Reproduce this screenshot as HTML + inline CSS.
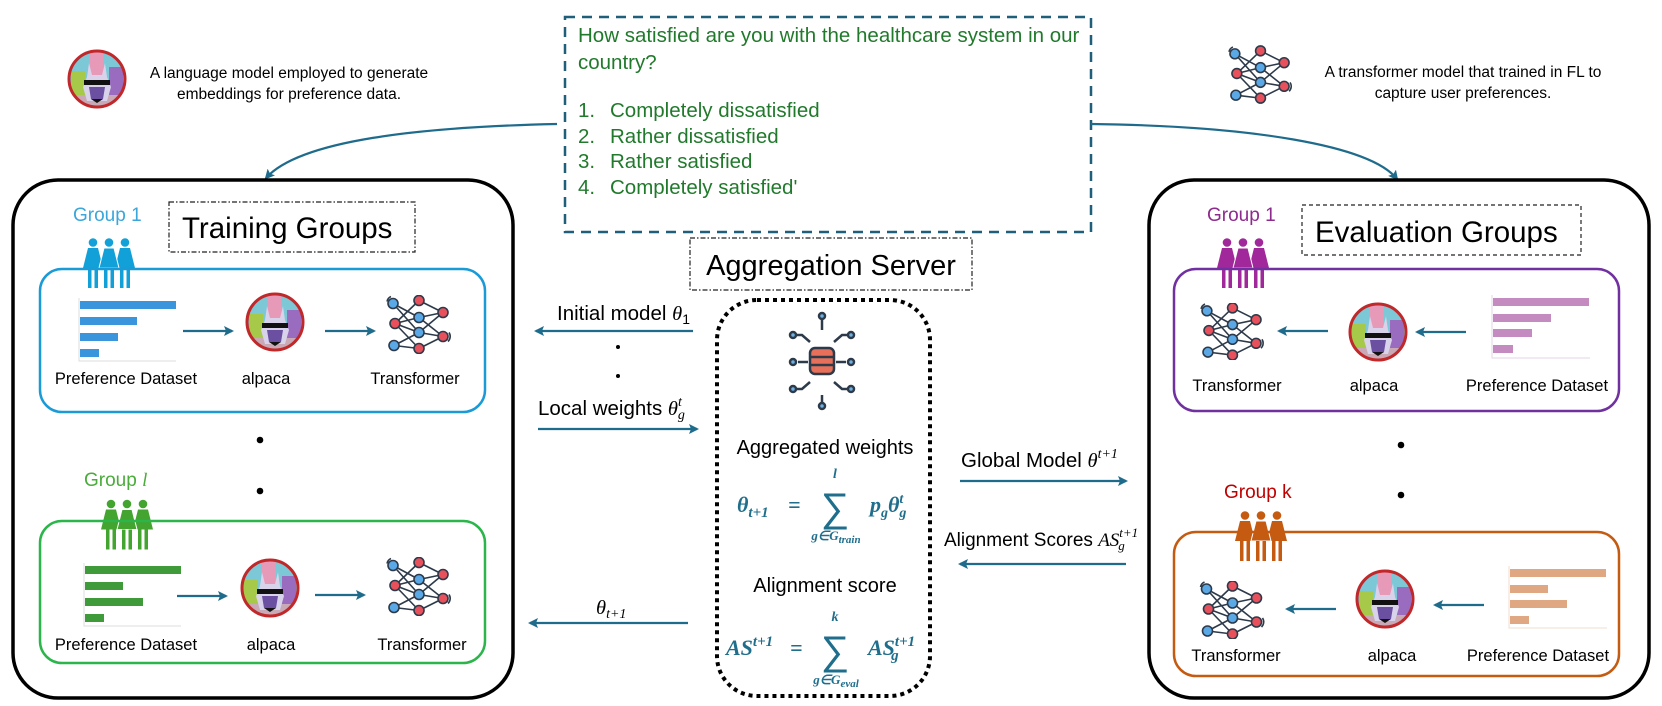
<!DOCTYPE html>
<html><head><meta charset="utf-8"><style>
html,body{margin:0;padding:0;background:#fff;}
svg{display:block;}
text{font-family:"Liberation Sans",sans-serif;}
.f{font-family:"Liberation Serif",serif;font-weight:bold;font-style:italic;fill:#1f6e8c;}
.it{font-family:"Liberation Serif",serif;font-style:italic;}
</style></head><body>
<svg width="1662" height="706" viewBox="0 0 1662 706" xmlns="http://www.w3.org/2000/svg">
<defs>
<marker id="ah" markerWidth="10" markerHeight="10" refX="8" refY="5" orient="auto" markerUnits="userSpaceOnUse">
<path d="M0,0 L10,5 L0,10 L2,5 Z" fill="#1f6b8c"/></marker>
<symbol id="tr" viewBox="0 0 68 58">
<g stroke="#2d3a4a" stroke-width="1.6" fill="none">
<path d="M8,8 L34,22 M8,8 L34,37 M10,28 L34,5 M10,28 L34,22 M10,28 L34,37 M10,28 L34,53 M9,50 L34,37 M9,50 L34,53 M34,5 L58,17 M34,22 L58,41 M34,37 L58,17 M34,53 L58,41 M34,22 L58,17 M34,37 L58,41"/>
<path d="M2,6 A7,7 0 0 1 6,1 M64,37 A7,7 0 0 1 63,46"/>
</g>
<g stroke="#2d3a4a" stroke-width="1.6">
<circle cx="8" cy="8" r="5" fill="#5aa9e6"/><circle cx="10" cy="28" r="5" fill="#e8505b"/><circle cx="9" cy="50" r="5" fill="#5aa9e6"/>
<circle cx="34" cy="5" r="5" fill="#e8505b"/><circle cx="34" cy="22" r="5" fill="#5aa9e6"/><circle cx="34" cy="37" r="5" fill="#5aa9e6"/><circle cx="34" cy="53" r="5" fill="#e8505b"/>
<circle cx="58" cy="17" r="5" fill="#e8505b"/><circle cx="58" cy="41" r="5" fill="#e8505b"/>
</g>
</symbol>
<symbol id="al" viewBox="0 0 60 60">
<clipPath id="cc"><circle cx="30" cy="30" r="28"/></clipPath>
<g clip-path="url(#cc)">
<rect x="0" y="0" width="60" height="60" fill="#7cc8d6"/>
<rect x="22" y="0" width="14" height="30" fill="#e79ab8"/>
<rect x="4" y="22" width="14" height="30" fill="#a6c94a"/>
<rect x="42" y="18" width="14" height="34" fill="#9a6cc0"/>
<rect x="0" y="46" width="60" height="14" fill="#c9a9b5"/>
<path d="M22,14 L25,26 L35,26 L38,14 L40,28 L44,38 L40,52 L20,52 L16,38 L20,28 Z" fill="#d8d2ea"/>
<path d="M22,38 L38,38 L36,50 L24,50 Z" fill="#6b4fa0"/>
<rect x="17" y="31" width="26" height="5" fill="#111"/>
<path d="M24,50 L36,50 L30,54 Z" fill="#111"/>
</g>
<circle cx="30" cy="30" r="28" fill="none" stroke="#c0282a" stroke-width="3"/>
</symbol>
<symbol id="pp" viewBox="0 0 56 50">
<g>
<circle cx="12" cy="4.5" r="4.3"/><path d="M7,10 L17,10 L22,30 L2,30 Z"/><rect x="7" y="30" width="3.5" height="20"/><rect x="13.5" y="30" width="3.5" height="20"/>
<circle cx="44" cy="4.5" r="4.3"/><path d="M39,10 L49,10 L54,30 L34,30 Z"/><rect x="39" y="30" width="3.5" height="20"/><rect x="45.5" y="30" width="3.5" height="20"/>
<circle cx="28" cy="4.5" r="4.3"/><path d="M23,10 L33,10 L38,30 L18,30 Z" stroke="#fff" stroke-width="1"/><rect x="23" y="30" width="3.5" height="20"/><rect x="29.5" y="30" width="3.5" height="20"/>
</g>
</symbol>
</defs>

<use href="#al" x="67" y="49" width="60" height="60"/>
<text x="289" y="78" font-size="15.5" text-anchor="middle">A language model employed to generate</text>
<text x="289" y="99" font-size="15.5" text-anchor="middle">embeddings for preference data.</text>
<use href="#tr" x="1227" y="45" width="67" height="59"/>
<text x="1463" y="77" font-size="15.5" text-anchor="middle">A transformer model that trained in FL to</text>
<text x="1463" y="98" font-size="15.5" text-anchor="middle">capture user preferences.</text>

<rect x="565" y="17" width="526" height="215" fill="none" stroke="#1f5f7a" stroke-width="2.5" stroke-dasharray="10 7"/>
<g fill="#217a2c" font-size="20.5">
<text x="578" y="42">How satisfied are you with the healthcare system in our</text>
<text x="578" y="69">country?</text>
<text x="578" y="117">1.</text><text x="610" y="117">Completely dissatisfied</text>
<text x="578" y="143">2.</text><text x="610" y="143">Rather dissatisfied</text>
<text x="578" y="168">3.</text><text x="610" y="168">Rather satisfied</text>
<text x="578" y="194">4.</text><text x="610" y="194">Completely satisfied'</text>
</g>
<path d="M557,124 C420,127 300,140 266,178" fill="none" stroke="#1f6b8c" stroke-width="2.2" marker-end="url(#ah)"/>
<path d="M1091,124 C1250,126 1370,145 1397,179" fill="none" stroke="#1f6b8c" stroke-width="2.2" marker-end="url(#ah)"/>

<rect x="13" y="180" width="500" height="518" rx="45" fill="none" stroke="#000" stroke-width="3.5"/>
<text x="73" y="221" font-size="19" fill="#3aa6dc">Group 1</text>
<rect x="169" y="202" width="246" height="50" fill="none" stroke="#222" stroke-width="1.2" stroke-dasharray="5 2 1.5 2"/>
<text x="182" y="238" font-size="29.5">Training Groups</text>
<use href="#pp" x="81" y="238" width="56" height="50" fill="#12a0d8"/>
<rect x="40" y="269" width="445" height="143" rx="22" fill="none" stroke="#1a9ad6" stroke-width="2.5"/>
<g fill="#3a95dc"><rect x="80" y="301" width="96" height="8"/><rect x="80" y="317" width="57" height="8"/><rect x="80" y="333" width="38" height="8"/><rect x="80" y="349" width="19" height="8"/></g>
<path d="M79,298 V361 H176" fill="none" stroke="#ddd" stroke-width="1"/>
<line x1="183" y1="331" x2="232" y2="331" stroke="#1f6b8c" stroke-width="2.2" marker-end="url(#ah)"/>
<use href="#al" x="245" y="292" width="60" height="60"/>
<line x1="325" y1="331" x2="374" y2="331" stroke="#1f6b8c" stroke-width="2.2" marker-end="url(#ah)"/>
<use href="#tr" x="385" y="295" width="68" height="59"/>
<g font-size="16.5" text-anchor="middle"><text x="126" y="384">Preference Dataset</text><text x="266" y="384">alpaca</text><text x="415" y="384">Transformer</text></g>
<circle cx="260" cy="440" r="3.3"/><circle cx="260" cy="491" r="3.3"/>
<text x="84" y="486" font-size="19" fill="#4aac3a">Group <tspan class="it">l</tspan></text>
<use href="#pp" x="99" y="499" width="56" height="51" fill="#43a52f"/>
<rect x="40" y="521" width="445" height="142" rx="22" fill="none" stroke="#2bb54a" stroke-width="2.5"/>
<g fill="#3f9a3a"><rect x="85" y="566" width="96" height="8"/><rect x="85" y="582" width="38" height="8"/><rect x="85" y="598" width="58" height="8"/><rect x="85" y="614" width="19" height="8"/></g>
<path d="M84,563 V626 H181" fill="none" stroke="#ddd" stroke-width="1"/>
<line x1="177" y1="596" x2="226" y2="596" stroke="#1f6b8c" stroke-width="2.2" marker-end="url(#ah)"/>
<use href="#al" x="240" y="558" width="60" height="60"/>
<line x1="315" y1="595" x2="364" y2="595" stroke="#1f6b8c" stroke-width="2.2" marker-end="url(#ah)"/>
<use href="#tr" x="385" y="557" width="68" height="59"/>
<g font-size="16.5" text-anchor="middle"><text x="126" y="650">Preference Dataset</text><text x="271" y="650">alpaca</text><text x="422" y="650">Transformer</text></g>

<text x="690" y="320" font-size="20.5" text-anchor="end">Initial model <tspan class="it">θ</tspan><tspan font-size="14" dy="4">1</tspan></text>
<line x1="693" y1="331" x2="536" y2="331" stroke="#1f6b8c" stroke-width="2.2" marker-end="url(#ah)"/>
<circle cx="618" cy="347" r="2"/><circle cx="618" cy="376" r="2"/>
<text x="538" y="415" font-size="20.5">Local weights <tspan class="it">θ</tspan><tspan class="it" font-size="14" dy="-9">t</tspan><tspan class="it" font-size="14" dx="-4" dy="13">g</tspan></text>
<line x1="538" y1="429" x2="697" y2="429" stroke="#1f6b8c" stroke-width="2.2" marker-end="url(#ah)"/>
<text x="596" y="614" font-size="20.5"><tspan class="it">θ</tspan><tspan class="it" font-size="14" dy="4">t+1</tspan></text>
<line x1="688" y1="623" x2="530" y2="623" stroke="#1f6b8c" stroke-width="2.2" marker-end="url(#ah)"/>

<rect x="690" y="238" width="282" height="52" fill="none" stroke="#222" stroke-width="1.2" stroke-dasharray="5 2 1.5 2"/>
<text x="831" y="275" font-size="29" text-anchor="middle">Aggregation Server</text>
<rect x="717" y="300" width="213" height="396" rx="40" fill="none" stroke="#000" stroke-width="4" stroke-dasharray="4 4"/>
<g stroke="#2d3a4a" stroke-width="2.5" fill="none">
<path d="M822,330 V318 M822,395 V407 M808,362 H798 M836,362 H846 M810,342 L802,335 H794 M834,342 L842,335 H850 M810,382 L802,389 H794 M834,382 L842,389 H850"/>
<circle cx="822" cy="316" r="3" fill="#6fb0e0"/><circle cx="822" cy="406" r="3" fill="#6fb0e0"/>
<circle cx="793" cy="335" r="3" fill="#6fb0e0"/><circle cx="851" cy="335" r="3" fill="#6fb0e0"/>
<circle cx="793" cy="362" r="3" fill="#6fb0e0"/><circle cx="851" cy="362" r="3" fill="#6fb0e0"/>
<circle cx="793" cy="389" r="3" fill="#6fb0e0"/><circle cx="851" cy="389" r="3" fill="#6fb0e0"/>
<rect x="810" y="348" width="24" height="26" rx="5" fill="#e8705a"/>
<path d="M810,357 H834 M810,365 H834"/>
</g>
<text x="825" y="454" font-size="20" text-anchor="middle">Aggregated weights</text>
<text class="f" x="737" y="512" font-size="22">θ<tspan font-size="15" dy="5">t+1</tspan></text>
<text class="f" x="788" y="512" font-size="22" font-style="normal">=</text>
<text x="835" y="521" font-size="40" text-anchor="middle" fill="#1f6e8c" font-family="Liberation Serif">∑</text>
<text class="f" x="835" y="478" font-size="14" text-anchor="middle">l</text>
<text class="f" x="836" y="540" font-size="13" text-anchor="middle">g∈G<tspan font-size="11" dy="3">train</tspan></text>
<text class="f" x="870" y="512" font-size="22">p<tspan font-size="14" dy="5">g</tspan><tspan dy="-5">θ</tspan><tspan font-size="14" dy="-9">t</tspan><tspan font-size="14" dx="-4" dy="14">g</tspan></text>
<text x="825" y="592" font-size="20" text-anchor="middle">Alignment score</text>
<text class="f" x="726" y="655" font-size="22">AS<tspan font-size="15" dy="-9">t+1</tspan></text>
<text class="f" x="790" y="655" font-size="22" font-style="normal">=</text>
<text x="835" y="664" font-size="40" text-anchor="middle" fill="#1f6e8c" font-family="Liberation Serif">∑</text>
<text class="f" x="835" y="621" font-size="14" text-anchor="middle">k</text>
<text class="f" x="836" y="684" font-size="13" text-anchor="middle">g∈G<tspan font-size="11" dy="3">eval</tspan></text>
<text class="f" x="868" y="655" font-size="22">AS<tspan font-size="15" dy="-9">t+1</tspan><tspan font-size="15" dx="-24" dy="14">g</tspan></text>

<text x="961" y="467" font-size="20.5">Global Model <tspan class="it">θ</tspan><tspan class="it" font-size="14" dy="-9">t+1</tspan></text>
<line x1="960" y1="481" x2="1126" y2="481" stroke="#1f6b8c" stroke-width="2.2" marker-end="url(#ah)"/>
<text x="944" y="546" font-size="19">Alignment Scores <tspan class="it">AS</tspan><tspan class="it" font-size="13" dy="-9">t+1</tspan><tspan class="it" font-size="13" dx="-20" dy="13">g</tspan></text>
<line x1="1126" y1="564" x2="960" y2="564" stroke="#1f6b8c" stroke-width="2.2" marker-end="url(#ah)"/>

<rect x="1149" y="180" width="500" height="518" rx="45" fill="none" stroke="#000" stroke-width="3.5"/>
<text x="1207" y="221" font-size="19" fill="#8e2a8e">Group 1</text>
<rect x="1302" y="205" width="279" height="50" fill="none" stroke="#222" stroke-width="1.2" stroke-dasharray="4 3"/>
<text x="1315" y="242" font-size="29.5">Evaluation Groups</text>
<use href="#pp" x="1215" y="238" width="56" height="50" fill="#a0289a"/>
<rect x="1174" y="269" width="445" height="142" rx="22" fill="none" stroke="#7030a0" stroke-width="2.5"/>
<use href="#tr" x="1198" y="303" width="69" height="57"/>
<line x1="1328" y1="331" x2="1279" y2="331" stroke="#1f6b8c" stroke-width="2.2" marker-end="url(#ah)"/>
<use href="#al" x="1348" y="302" width="60" height="60"/>
<line x1="1466" y1="332" x2="1417" y2="332" stroke="#1f6b8c" stroke-width="2.2" marker-end="url(#ah)"/>
<g fill="#c48bc0"><rect x="1493" y="298" width="96" height="8"/><rect x="1493" y="314" width="58" height="8"/><rect x="1493" y="329" width="39" height="8"/><rect x="1493" y="345" width="20" height="8"/></g>
<path d="M1492,295 V358 H1590" fill="none" stroke="#e6d6e6" stroke-width="1"/>
<g font-size="16.5" text-anchor="middle"><text x="1237" y="391">Transformer</text><text x="1374" y="391">alpaca</text><text x="1537" y="391">Preference Dataset</text></g>
<circle cx="1401" cy="445" r="3.3"/><circle cx="1401" cy="495" r="3.3"/>
<text x="1224" y="498" font-size="19" fill="#c00000">Group k</text>
<use href="#pp" x="1233" y="510" width="56" height="52" fill="#c55a11"/>
<rect x="1174" y="532" width="445" height="144" rx="22" fill="none" stroke="#c55a11" stroke-width="2.5"/>
<use href="#tr" x="1198" y="581" width="69" height="58"/>
<line x1="1336" y1="609" x2="1287" y2="609" stroke="#1f6b8c" stroke-width="2.2" marker-end="url(#ah)"/>
<use href="#al" x="1355" y="569" width="60" height="60"/>
<line x1="1484" y1="605" x2="1435" y2="605" stroke="#1f6b8c" stroke-width="2.2" marker-end="url(#ah)"/>
<g fill="#e0a882"><rect x="1510" y="569" width="96" height="8"/><rect x="1510" y="585" width="38" height="8"/><rect x="1510" y="600" width="57" height="8"/><rect x="1510" y="616" width="19" height="8"/></g>
<path d="M1509,566 V628 H1607" fill="none" stroke="#f0ddd0" stroke-width="1"/>
<g font-size="16.5" text-anchor="middle"><text x="1236" y="661">Transformer</text><text x="1392" y="661">alpaca</text><text x="1538" y="661">Preference Dataset</text></g>
</svg>
</body></html>
